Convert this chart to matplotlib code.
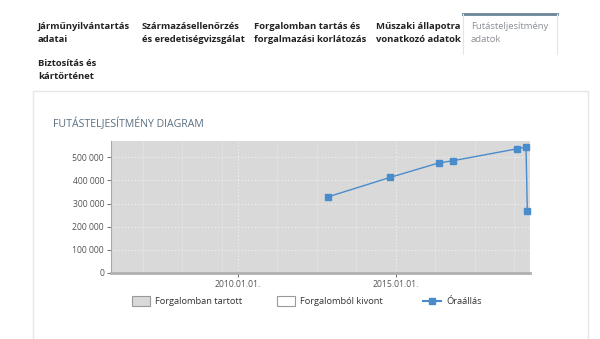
import datetime as dt

import matplotlib

matplotlib.use("Agg")

import matplotlib.dates as mdates
import matplotlib.pyplot as plt
from matplotlib.lines import Line2D
from matplotlib.patches import Rectangle
from matplotlib.ticker import FuncFormatter

plt.rcParams["font.family"] = ["Open Sans", "DejaVu Sans"]

# odometer readings (date, km)
reading_dates = [
    dt.date(2012, 11, 13),
    dt.date(2014, 10, 30),
    dt.date(2016, 5, 10),
    dt.date(2016, 10, 25),
    dt.date(2018, 10, 30),
    dt.date(2019, 2, 14),
    dt.date(2019, 3, 1),
]
reading_km = [329000, 413000, 475000, 485000, 536000, 543000, 266000]

x_range = [dt.date(2006, 1, 1), dt.date(2019, 4, 1)]
y_max = 570000
y_ticks = [0, 100000, 200000, 300000, 400000, 500000]
major_dates = [dt.date(2010, 1, 1), dt.date(2015, 1, 1)]
minor_dates = [dt.date(2007, 1, 1), dt.date(2008, 4, 1), dt.date(2009, 7, 1),
               dt.date(2011, 4, 1), dt.date(2012, 7, 1), dt.date(2013, 10, 1),
               dt.date(2016, 4, 1), dt.date(2017, 7, 1), dt.date(2018, 10, 1)]

tabs = [
    "Járműnyilvántartás\nadatai",
    "Származásellenőrzés\nés eredetiségvizsgálat",
    "Forgalomban tartás és\nforgalmazási korlátozás",
    "Műszaki állapotra\nvonatkozó adatok",
    "Futásteljesítmény\nadatok",
    "Biztosítás és\nkártörténet",
]
legend_labels = ["Forgalomban tartott", "Forgalomból kivont", "Óraállás"]

W, H = 600, 339
fig = plt.figure(figsize=(W / 100, H / 100), dpi=100)
fig.patch.set_facecolor("white")


def fx(px):
    return px / W


def fy(py):
    return 1 - py / H


# tab bar
tab_x = [38, 142, 254, 376, 471, 38]
tab_y = [33, 33, 33, 33, 33, 70]
for i, (label, x, y) in enumerate(zip(tabs, tab_x, tab_y)):
    active = i == 4
    fig.text(fx(x), fy(y), label, fontsize=6.8, fontweight="normal" if active else "bold",
             color="#8a8f94" if active else "#222222", ha="left", va="center", linespacing=1.55)
fig.add_artist(Line2D([fx(463), fx(557)], [fy(14), fy(14)], color="#6a8597", lw=2))
fig.add_artist(Line2D([fx(463), fx(463)], [fy(14), fy(54)], color="#e4e4e4", lw=0.8))
fig.add_artist(Line2D([fx(557), fx(557)], [fy(14), fy(54)], color="#e4e4e4", lw=0.8))

# panel
fig.add_artist(Rectangle((fx(33), fy(345)), fx(555), 254 / H, fill=False, ec="#e6e6e6", lw=1))
fig.text(fx(53), fy(124), "FUTÁSTELJESÍTMÉNY DIAGRAM", fontsize=7.6, color="#5a6f80",
         ha="left", va="center")

ax = fig.add_axes([fx(111), fy(273), fx(530 - 111), (273 - 141) / H])
ax.set_facecolor("#d9d9d9")
ax.plot(reading_dates, reading_km, color="#4a8ccb", lw=1, marker="s", markersize=4.2,
        markerfacecolor="#4a8ccb", markeredgecolor="#4a8ccb", zorder=3, clip_on=False)

ax.set_xlim(x_range)
ax.set_ylim(0, y_max)
ax.set_yticks(y_ticks)
ax.yaxis.set_major_formatter(FuncFormatter(lambda v, _: f"{int(v):,}".replace(",", " ")))
ax.set_xticks(major_dates)
ax.set_xticks(minor_dates, minor=True)
ax.xaxis.set_major_formatter(mdates.DateFormatter("%Y.%m.%d."))

ax.grid(axis="y", which="major", color="#f2f2f2", ls=(0, (1, 2)), lw=0.8)
ax.grid(axis="x", which="major", color="#f2f2f2", ls=(0, (1, 2)), lw=0.8)
ax.grid(axis="x", which="minor", color="#e2e2e2", ls="-", lw=0.6)

for side in ["top", "right"]:
    ax.spines[side].set_visible(False)
ax.spines["left"].set_color("#a8a8a8")
ax.spines["bottom"].set_color("#b0b0b0")
ax.spines["bottom"].set_linewidth(2)
ax.tick_params(axis="both", which="major", labelsize=6.2, colors="#555555", length=3, width=0.6)
ax.tick_params(axis="x", which="minor", length=0)
ax.tick_params(axis="y", pad=2)
ax.tick_params(axis="x", pad=2)

# legend items at fixed slots, like the web chart
legend_x = [132, 277, 423]
legend_yc = 301
for i, (label, x) in enumerate(zip(legend_labels, legend_x)):
    if i < 2:
        face = "#d9d9d9" if i == 0 else "white"
        fig.add_artist(Rectangle((fx(x), fy(legend_yc + 5)), 18 / W, 10 / H,
                                 facecolor=face, edgecolor="#999999", lw=0.8))
    else:
        fig.add_artist(Line2D([fx(x), fx(x + 18)], [fy(legend_yc), fy(legend_yc)],
                              color="#4a8ccb", lw=1.5))
        fig.add_artist(Line2D([fx(x + 9)], [fy(legend_yc)], color="#4a8ccb", marker="s",
                              markersize=4, lw=0))
    fig.text(fx(x + 23), fy(legend_yc), label, fontsize=6.7, color="#333333",
             ha="left", va="center")

fig.savefig("out.png", dpi=100)
